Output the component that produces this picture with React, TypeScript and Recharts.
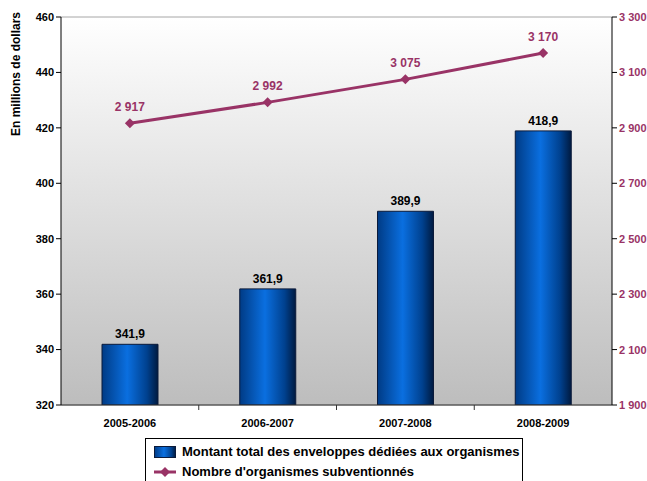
import React from "react";
import { ComposedChart, Bar, Line, XAxis, YAxis, CartesianGrid, LabelList } from "recharts";

const categories = ["2005-2006", "2006-2007", "2007-2008", "2008-2009"];
const montants = [341.9, 361.9, 389.9, 418.9];
const organismes = [2917, 2992, 3075, 3170];
const leftTicks = [320, 340, 360, 380, 400, 420, 440, 460];
const rightTicks = [1900, 2100, 2300, 2500, 2700, 2900, 3100, 3300];

const data = categories.map((c, i) => ({ name: c, montant: montants[i], nombre: organismes[i] }));

const FONT = "'Liberation Sans', Arial, sans-serif";
const PLUM = "#993366";

const fmtThousands = (v: number) => String(v).replace(/\B(?=(\d{3})+(?!\d))/g, "\u00A0");
const fmtDecimal = (v: number) => v.toFixed(1).replace(".", ",");

const XTick = (props: any) => {
  const { x, y, payload, index } = props;
  const half = 551 / categories.length / 2;
  return (
    <g>
      {index < categories.length - 1 && (
        <line x1={x + half} x2={x + half} y1={y - 8} y2={y - 3} stroke="#333" />
      )}
      <text x={x} y={y + 14} textAnchor="middle" fontSize={11} fontWeight="bold" fill="#000" fontFamily={FONT}>
        {payload.value}
      </text>
    </g>
  );
};

const RightTick = (props: any) => {
  const { x, y, payload } = props;
  return (
    <text x={x} y={y + 4} textAnchor="start" fontSize={11} fontWeight="bold" fill={PLUM} fontFamily={FONT}>
      {fmtThousands(payload.value)}
    </text>
  );
};

const Diamond = (props: any) => {
  const { cx, cy } = props;
  if (cx == null || cy == null) return null;
  return <path d={`M${cx},${cy - 5}L${cx + 5},${cy}L${cx},${cy + 5}L${cx - 5},${cy}Z`} fill={PLUM} />;
};

const YLabel = () => (
  <text x={20} y={74} transform="rotate(-90 20 74)" textAnchor="middle" fontSize={12} fontWeight="bold" fontFamily={FONT} fill="#000">
    En millions de dollars
  </text>
);

export default function App() {
  return (
    <div style={{ position: "absolute", left: 0, top: 0, width: 647, height: 481, background: "#fff", fontFamily: FONT, overflow: "hidden" }}>
      <ComposedChart width={647} height={481} data={data} margin={{ top: 17, right: 0, left: 0, bottom: 43 }}>
        <defs>
          <linearGradient id="bgGrad" x1="0" y1="0" x2="0" y2="1">
            <stop offset="0%" stopColor="#ffffff" />
            <stop offset="100%" stopColor="#bdbdbd" />
          </linearGradient>
          <linearGradient id="barGrad" x1="0" y1="0" x2="1" y2="0">
            <stop offset="0%" stopColor="#003b85" />
            <stop offset="45%" stopColor="#0a6fe0" />
            <stop offset="80%" stopColor="#00418f" />
            <stop offset="100%" stopColor="#001a40" />
          </linearGradient>
        </defs>
        <CartesianGrid vertical={false} fill="url(#bgGrad)" stroke="#a6a6a6" strokeWidth={1} fillOpacity={1} />
        <XAxis
          dataKey="name"
          height={33}
          tickLine={false}
          axisLine={{ stroke: "#333" }}
          tick={<XTick />}
          interval={0}
        />
        <YAxis
          yAxisId="left"
          width={61}
          domain={[320, 460]}
          ticks={leftTicks}
          allowDataOverflow
          axisLine={{ stroke: "#000" }}
          tickLine={{ stroke: "#000" }}
          tickSize={5}
          tick={{ fill: "#000", fontSize: 11, fontWeight: "bold", fontFamily: FONT }}
          label={<YLabel />}
        />
        <YAxis
          yAxisId="right"
          orientation="right"
          width={35}
          domain={[1900, 3300]}
          ticks={rightTicks}
          axisLine={{ stroke: "#000" }}
          tickLine={{ stroke: "#000" }}
          tickSize={5}
          tick={<RightTick />}
        />
        <Bar yAxisId="left" dataKey="montant" barSize={56} fill="url(#barGrad)" stroke="#0b1a3a" strokeWidth={1} isAnimationActive={false}>
          <LabelList dataKey="montant" position="top" offset={6} formatter={(v: any) => fmtDecimal(Number(v))} style={{ fill: "#000", fontSize: 12, fontWeight: "bold", fontFamily: FONT }} />
        </Bar>
        <Line yAxisId="right" dataKey="nombre" stroke={PLUM} strokeWidth={3} dot={<Diamond />} activeDot={false} isAnimationActive={false}>
          <LabelList dataKey="nombre" position="top" offset={12} formatter={(v: any) => fmtThousands(Number(v))} style={{ fill: PLUM, fontSize: 12, fontWeight: "bold", fontFamily: FONT }} />
        </Line>
      </ComposedChart>
      <div style={{ position: "absolute", left: 145, top: 438, width: 378, height: 46, border: "1px solid #000", background: "#fff", boxSizing: "border-box", padding: "3px 0 0 8px", fontSize: 13, fontWeight: "bold", color: "#000", lineHeight: "20px" }}>
        <div style={{ display: "flex", alignItems: "center" }}>
          <svg width={22} height={12} style={{ marginRight: 6 }}>
            <rect x={0.5} y={0.5} width={21} height={11} fill="url(#barGrad)" stroke="#0b1a3a" />
          </svg>
          Montant total des enveloppes dédiées aux organismes
        </div>
        <div style={{ display: "flex", alignItems: "center" }}>
          <svg width={22} height={12} style={{ marginRight: 6 }}>
            <line x1={0} x2={22} y1={6} y2={6} stroke={PLUM} strokeWidth={3} />
            <path d="M11,1L16,6L11,11L6,6Z" fill={PLUM} />
          </svg>
          Nombre d'organismes subventionnés
        </div>
      </div>
    </div>
  );
}
